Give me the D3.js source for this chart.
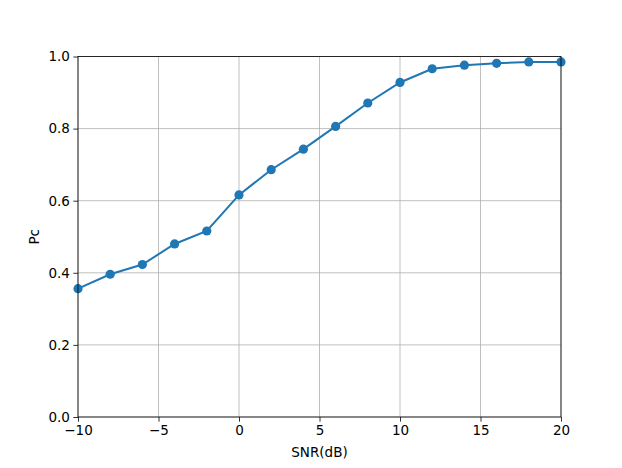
<!DOCTYPE html>
<html>
<head>
<meta charset="utf-8">
<script src="https://cdn.jsdelivr.net/npm/d3@7"></script>
<style>
  body { margin: 0; background: #fff; }
  text { font-family: "DejaVu Sans", sans-serif; }
</style>
</head>
<body>
<script>
// data
var snr = [-10, -8, -6, -4, -2, 0, 2, 4, 6, 8, 10, 12, 14, 16, 18, 20];
var pc = [0.356, 0.396, 0.423, 0.480, 0.516, 0.616, 0.686, 0.743, 0.806, 0.871, 0.928, 0.966, 0.976, 0.981, 0.985, 0.985];
var xTicks = [-10, -5, 0, 5, 10, 15, 20];
var yTicks = [0, 0.2, 0.4, 0.6, 0.8, 1.0];

var W = 622, H = 468;
var margin = {top: 56.5, right: 61, bottom: 51, left: 78};
var width = W - margin.left - margin.right,
    height = H - margin.top - margin.bottom;

var svg = d3.select("body").append("svg")
    .attr("width", W)
    .attr("height", H);

var g = svg.append("g")
    .attr("transform", "translate(" + margin.left + "," + margin.top + ")");

var x = d3.scaleLinear().domain([-10, 20]).range([0, width]);
var y = d3.scaleLinear().domain([0, 1]).range([height, 0]);

// grid
g.append("g").selectAll("line").data(xTicks).enter().append("line")
    .attr("x1", function(d) { return x(d); }).attr("x2", function(d) { return x(d); })
    .attr("y1", 0).attr("y2", height)
    .attr("stroke", "#b0b0b0").attr("stroke-width", 0.8);
g.append("g").selectAll("line").data(yTicks).enter().append("line")
    .attr("y1", function(d) { return y(d); }).attr("y2", function(d) { return y(d); })
    .attr("x1", 0).attr("x2", width)
    .attr("stroke", "#b0b0b0").attr("stroke-width", 0.8);

// line + markers
var valueline = d3.line()
    .x(function(d, i) { return x(snr[i]); })
    .y(function(d) { return y(d); });

g.append("path")
    .datum(pc)
    .attr("fill", "none")
    .attr("stroke", "#1f77b4")
    .attr("stroke-width", 2)
    .attr("d", valueline);

g.append("g").selectAll("circle").data(pc).enter().append("circle")
    .attr("cx", function(d, i) { return x(snr[i]); })
    .attr("cy", function(d) { return y(d); })
    .attr("r", 4.6)
    .attr("fill", "#1f77b4");

// axes
var fmtX = function(d) { return d < 0 ? "\u2212" + Math.abs(d) : d; };
var xAxis = g.append("g")
    .attr("transform", "translate(0," + height + ")")
    .call(d3.axisBottom(x).tickValues(xTicks).tickFormat(fmtX).tickSize(4.7).tickPadding(3.4));
var yAxis = g.append("g")
    .call(d3.axisLeft(y).tickValues(yTicks).tickFormat(d3.format(".1f")).tickSize(4.7).tickPadding(3.4));

[xAxis, yAxis].forEach(function(a) {
  a.select(".domain").remove();
  a.selectAll("text").attr("font-size", "13.5px").attr("fill", "#000").attr("font-family", "DejaVu Sans");
  a.selectAll(".tick line").attr("stroke", "#000").attr("stroke-width", 0.8);
});

// spines
g.append("rect")
    .attr("x", 0).attr("y", 0).attr("width", width).attr("height", height)
    .attr("fill", "none").attr("stroke", "#000").attr("stroke-width", 0.8);

// labels
svg.append("text")
    .attr("x", margin.left + width / 2)
    .attr("y", 457)
    .attr("text-anchor", "middle")
    .attr("font-size", "13.5px")
    .text("SNR(dB)");

svg.append("text")
    .attr("transform", "translate(39," + (margin.top + height / 2) + ") rotate(-90)")
    .attr("text-anchor", "middle")
    .attr("font-size", "13.5px")
    .text("Pc");
</script>
</body>
</html>
